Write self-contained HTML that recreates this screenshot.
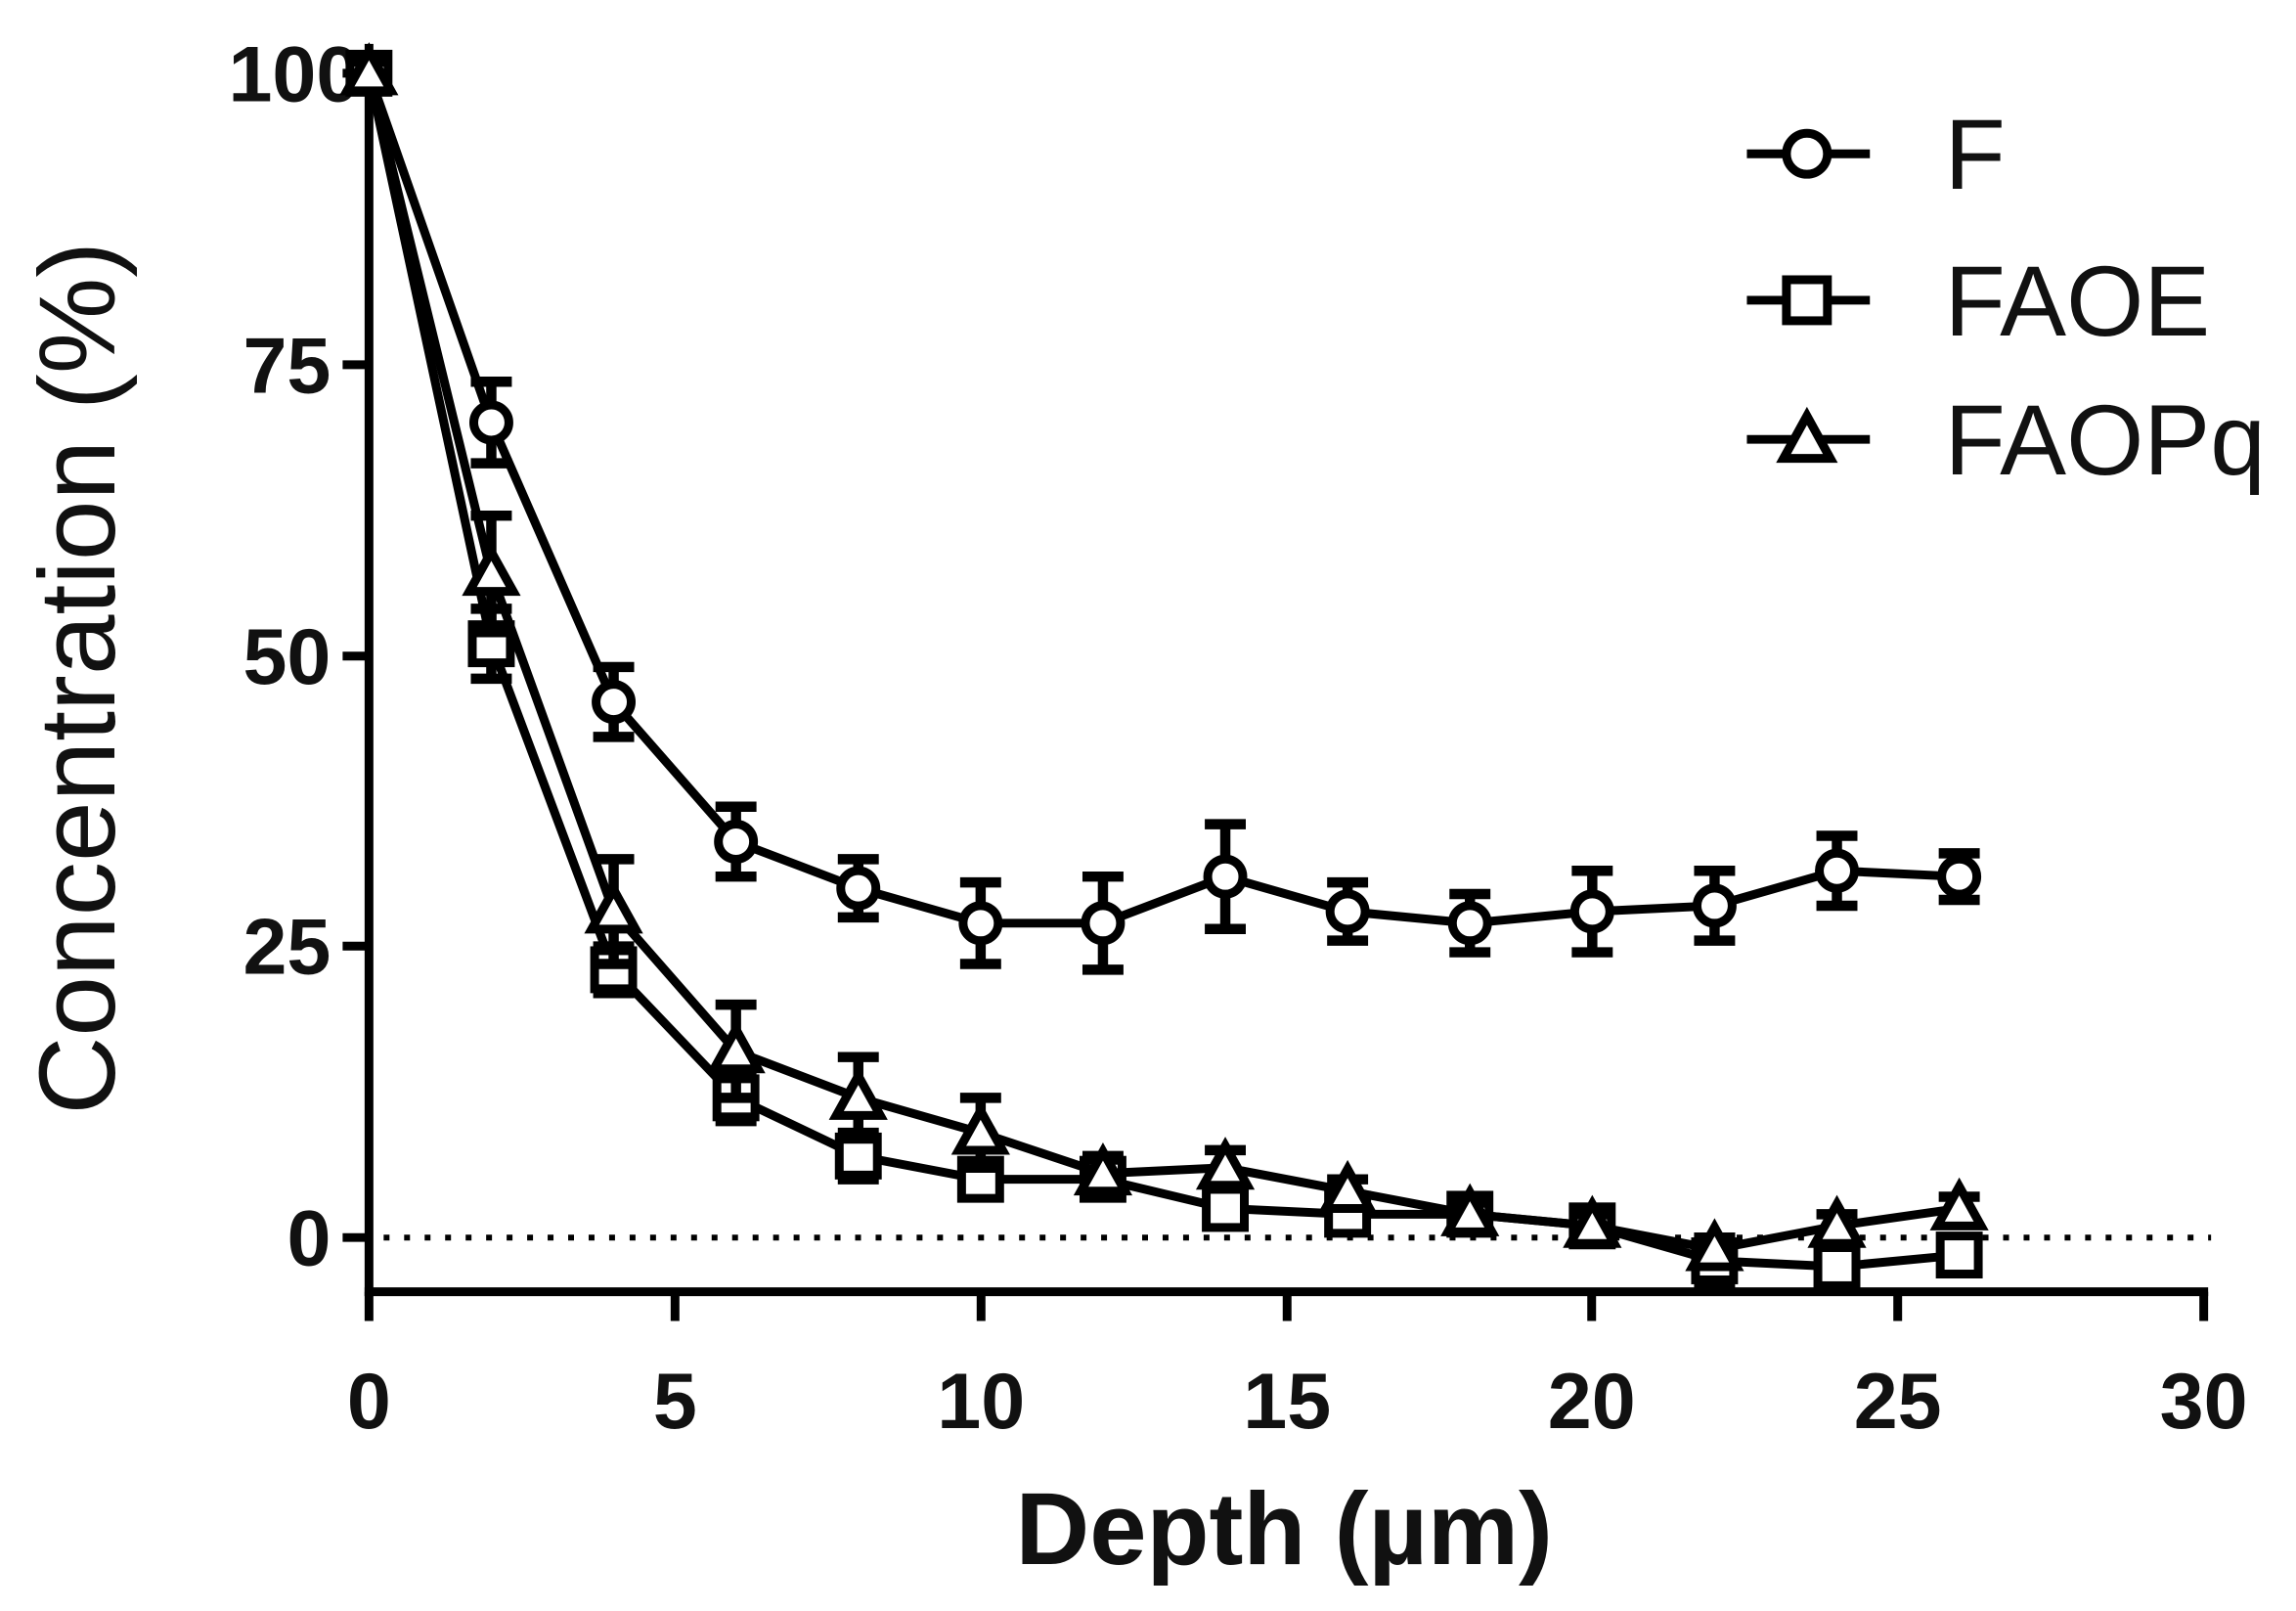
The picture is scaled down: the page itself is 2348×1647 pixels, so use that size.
<!DOCTYPE html>
<html><head><meta charset="utf-8"><style>
html,body{margin:0;padding:0;background:#fff;}
svg{display:block;}
text{font-family:"Liberation Sans",Arial,sans-serif;fill:#111;}
</style></head><body>
<svg id="s" width="2348" height="1647" viewBox="0 0 1568 1100" preserveAspectRatio="none" xmlns="http://www.w3.org/2000/svg">
<g stroke="#000" stroke-width="6" fill="none">
<line x1="252" y1="30" x2="252" y2="885"/>
<line x1="249" y1="882" x2="1508" y2="882"/>
</g>
<line x1="262" y1="845" x2="1510" y2="845" stroke="#000" stroke-width="4" stroke-dasharray="4,10"/>
<g stroke="#000" stroke-width="6">
<line x1="234" y1="50" x2="252" y2="50"/><line x1="234" y1="249" x2="252" y2="249"/>
<line x1="234" y1="448" x2="252" y2="448"/><line x1="234" y1="646" x2="252" y2="646"/>
<line x1="234" y1="845" x2="252" y2="845"/>
<line x1="252" y1="882" x2="252" y2="902"/><line x1="461" y1="882" x2="461" y2="902"/>
<line x1="670" y1="882" x2="670" y2="902"/><line x1="879" y1="882" x2="879" y2="902"/>
<line x1="1087" y1="882" x2="1087" y2="902"/><line x1="1296" y1="882" x2="1296" y2="902"/>
<line x1="1505" y1="882" x2="1505" y2="902"/>
</g>
<g font-size="54" font-weight="bold" text-anchor="end">
<text x="246" y="69">100</text><text x="226" y="268">75</text><text x="226" y="467">50</text>
<text x="226" y="665">25</text><text x="226" y="864">0</text>
</g>
<g font-size="54" font-weight="bold" text-anchor="middle">
<text x="252" y="975">0</text><text x="461" y="975">5</text><text x="670" y="975">10</text>
<text x="879" y="975">15</text><text x="1087" y="975">20</text><text x="1296" y="975">25</text>
<text x="1505" y="975">30</text>
</g>
<text x="877" y="1068" font-size="70" font-weight="bold" text-anchor="middle">Depth (µm)</text>
<text transform="translate(78,463) rotate(-90)" font-size="74" text-anchor="middle">Concentration (%)</text>
<g id="data"></g>
<g stroke="#000" stroke-width="6" fill="#fff">
<line x1="1193" y1="105" x2="1277" y2="105"/><circle cx="1234" cy="105" r="14"/>
<line x1="1193" y1="205" x2="1277" y2="205"/><rect x="1220" y="191" width="28" height="28"/>
<line x1="1193" y1="300" x2="1277" y2="300"/><polygon points="1234,284 1250,313 1218,313"/>
</g>
<g font-size="68"><text x="1328" y="129">F</text><text x="1328" y="229">FAOE</text><text x="1328" y="324">FAOPq</text></g>
</svg>
<script>
var X=d=>252+41.77*d, Y=v=>845-7.95*v;
var xs=[0,2,4,6,8,10,12,14,16,18,20,22,24,26];
var S=[
{t:'c',v:[100,70,46,34,30,27,27,31,28,27,28,28.5,31.5,31],e:[1,3.5,3,3,2.5,3.5,4,4.5,2.5,2.5,3.5,3,3,2]},
{t:'s',v:[100,51,23,12,7,5,5,2.5,2,2,1,-2,-2.5,-1.5],e:[1,3,2,2,2,1.5,1.5,1.5,1,1,1,2,1.5,1]},
{t:'t',v:[100,57,28,16,12,9,5.5,6,4,2,1,-1,1,2.5],e:[1,5,4.5,4,3.5,3,1.5,1.5,1,1,1,1,1,1]}];
var g=document.getElementById('data'),h='';
S.forEach(s=>{var p=xs.map((d,i)=>X(d)+','+Y(s.v[i])).join(' ');
h+='<polyline points="'+p+'" fill="none" stroke="#000" stroke-width="6"/>';
xs.forEach((d,i)=>{var x=X(d),y=Y(s.v[i]),e=s.e[i]*7.95;
h+='<path d="M'+x+' '+(y-e)+'V'+(y+e)+'M'+(x-14)+' '+(y-e)+'h28M'+(x-14)+' '+(y+e)+'h28" stroke="#000" stroke-width="7"/>';
if(s.t=='c')h+='<circle cx="'+x+'" cy="'+y+'" r="12" fill="#fff" stroke="#000" stroke-width="6"/>';
if(s.t=='s')h+='<rect x="'+(x-13)+'" y="'+(y-13)+'" width="26" height="26" fill="#fff" stroke="#000" stroke-width="6"/>';
if(s.t=='t')h+='<polygon points="'+x+','+(y-15)+' '+(x+15)+','+(y+12)+' '+(x-15)+','+(y+12)+'" fill="#fff" stroke="#000" stroke-width="6"/>';
});});
g.innerHTML=h;
</script>
</body></html>
